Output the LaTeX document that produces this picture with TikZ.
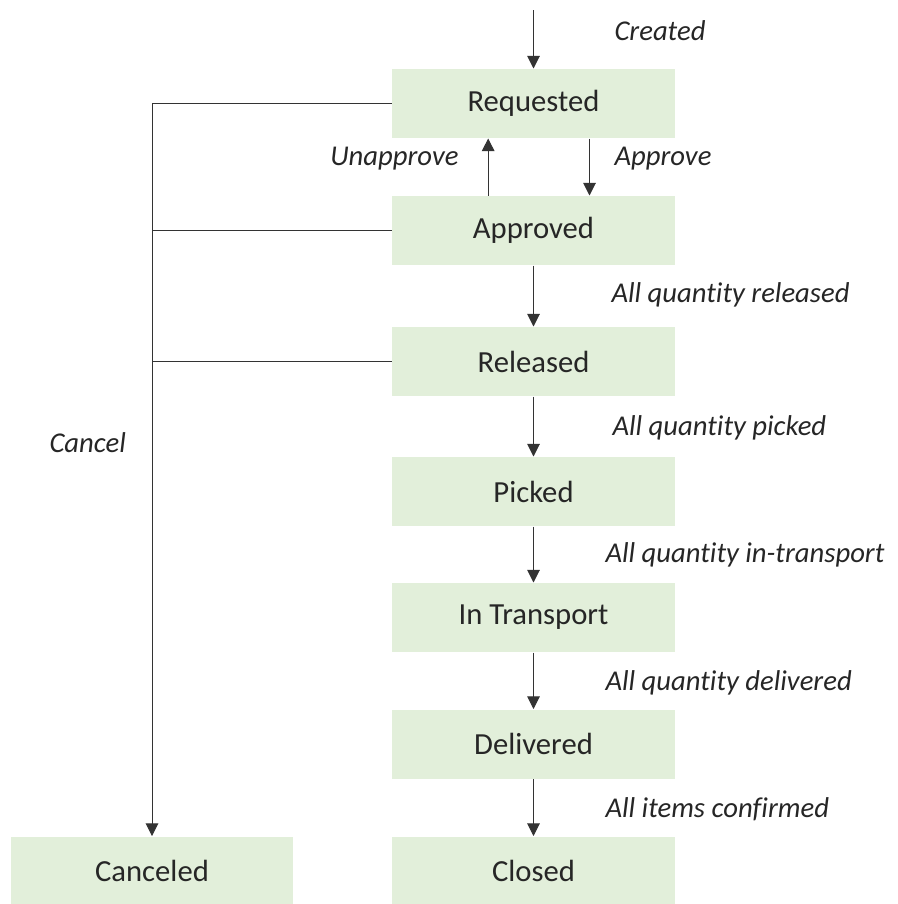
\documentclass[tikz,border=0pt]{standalone}
\usepackage{fontspec}
\setmainfont{Carlito}[Ligatures=CommonOff]
\usetikzlibrary{arrows.meta}
\definecolor{stategreen}{HTML}{E2EFDA}
\definecolor{linegray}{HTML}{333333}
\tikzset{every picture/.style={line width=0.75pt}}
\tikzset{
  statebox/.style={fill=stategreen, draw=none, minimum width=212pt, minimum height=51.75pt, inner sep=0pt, font=\fontsize{23}{26}\selectfont, text=black!85},
  translabel/.style={inner sep=0.75pt, font=\fontsize{21.5}{24}\selectfont\itshape, text=black!85},
  flow/.style={draw=linegray, -{Triangle[width=9.5pt,length=9.5pt]}},
  wire/.style={draw=linegray}
}
\begin{document}
\begin{tikzpicture}[x=0.75pt,y=0.75pt,yscale=-1,xscale=1]
\useasboundingbox (0,0) rectangle (897,904);
%States
\node [statebox] (req) at (533.5,103.5) {Requested};
\node [statebox] (appr) at (533.5,230.5) {Approved};
\node [statebox] (rel) at (533.5,361.5) {Released};
\node [statebox] (pick) at (533.5,491.5) {Picked};
\node [statebox] (trans) at (533.5,617.5) {In Transport};
\node [statebox] (deliv) at (533.5,744) {Delivered};
\node [statebox] (closed) at (533.5,871) {Closed};
\node [statebox] (canc) at (152,871) {Canceled};
%Entry point
\coordinate (start) at (533.5,10);
%Straight Lines
\draw [flow] (start) -- (req.north);
\draw [flow] ([xshift=-34pt]appr.north) -- ([xshift=-34pt]req.south);
\draw [flow] ([xshift=42pt]req.south) -- ([xshift=42pt]appr.north);
\draw [flow] (appr) -- (rel);
\draw [flow] (rel) -- (pick);
\draw [flow] (pick) -- (trans);
\draw [flow] (trans) -- (deliv);
\draw [flow] (deliv) -- (closed);
%Cancel lines
\draw [wire] (appr.west) -- (appr.west -| canc.north);
\draw [wire] (rel.west) -- (rel.west -| canc.north);
\draw [flow] (req.west) -- (req.west -| canc.north) -- (canc.north);
% Text Node
\node [translabel, anchor=west] (lcreated) at (613,31) {Created};
% Text Node
\node [translabel, anchor=east] (lunappr) at (460,159) {Unapprove};
% Text Node
\node [translabel, anchor=west] (lappr) at (613,159) {Approve};
% Text Node
\node [translabel, anchor=west] (lrel) at (610,295) {All quantity released};
% Text Node
\node [translabel, anchor=west] (lpick) at (611,428) {All quantity picked};
% Text Node
\node [translabel, anchor=west] (ltrans) at (604,555) {All quantity in-transport};
% Text Node
\node [translabel, anchor=west] (ldeliv) at (604,683) {All quantity delivered};
% Text Node
\node [translabel, anchor=west] (lconf) at (604,809) {All items confirmed};
% Text Node
\node [translabel, anchor=west] (lcanc) at (48,443) {Cancel};
\end{tikzpicture}
\end{document}
